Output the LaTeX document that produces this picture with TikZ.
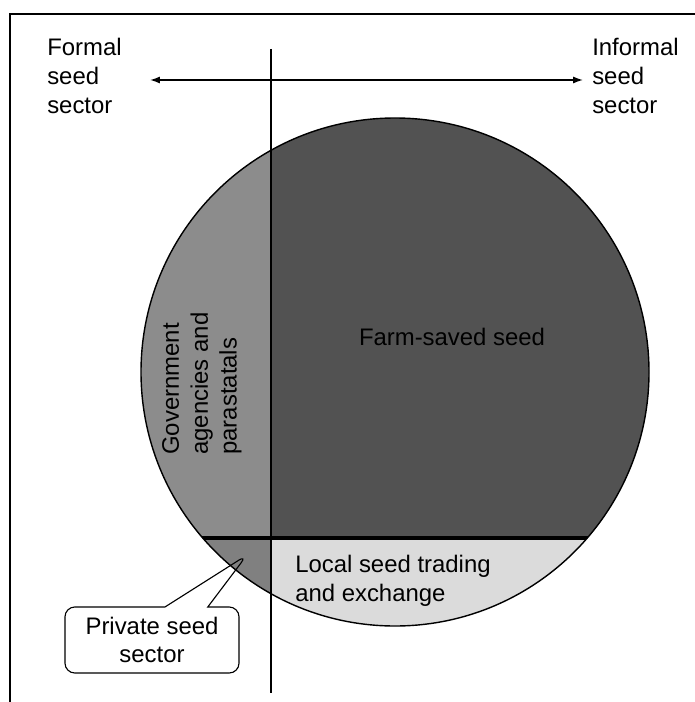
\documentclass[tikz,border=0pt]{standalone}
\usepackage{fontspec}
\setmainfont{Liberation Sans}
\usetikzlibrary{shapes.callouts}
\usetikzlibrary{arrows.meta}

\begin{document}
\begin{tikzpicture}[x=0.025cm,y=-0.025cm,
    sector text/.style={font=\fontsize{17}{20.5}\selectfont,inner sep=0pt,align=left},
    divider/.style={line width=0.8pt},
    bubble/.style={rectangle callout,draw,line width=0.8pt,rounded corners=7pt,
        minimum width=4.35cm,minimum height=1.65cm,align=center,
        font=\fontsize{17}{20.5}\selectfont}]
    \useasboundingbox (0,0) rectangle (695,702);
    % Frame
    \draw [line width=1.2pt] (10,702) -- (10,14) -- (695,14);
    % Sectors of the seed pie
    \begin{scope}
        \clip (395,372) circle (254);
        \fill [black!45] (120,100) rectangle (271,538);
        \fill [black!68] (271,100) rectangle (670,538);
        \fill [black!14] (271,538) rectangle (670,650);
        \fill [black!50] (120,538) rectangle (271,650);
        \draw [line width=2.5pt] (120,538) -- (670,538);
    \end{scope}
    \draw [line width=1pt] (395,372) circle (254);
    % Formal / informal split
    \coordinate (splitTop) at (271,49);
    \coordinate (splitBottom) at (271,693);
    \draw [divider] (splitTop) -- (splitBottom);
    \node (formal) at (47,38) [sector text,anchor=north west]
        {Formal\\seed\\sector};
    \node (informal) at (592,38) [sector text,anchor=north west]
        {Informal\\seed\\sector};
    \coordinate (formalTip) at (150,80);
    \coordinate (informalTip) at (583,80);
    \draw [line width=1pt,{Latex[length=7pt,width=5pt]}-{Latex[length=7pt,width=5pt]}]
        (formalTip) -- (informalTip);
    \node (farm) at (452,345) [sector text,anchor=base] {Farm-saved seed};
    \node (gov) at (162,455) [sector text,anchor=north west,rotate=90]
        {Government\\agencies and\\parastatals};
    \node (local) at (295,555) [sector text,anchor=north west]
        {Local seed trading\\and exchange};
    \coordinate (privateTip) at (247,555);
    \node (private) at (152,640) [bubble,callout absolute pointer=(privateTip),
        callout pointer width=1.07cm] {Private seed\\sector};
\end{tikzpicture}
\end{document}
